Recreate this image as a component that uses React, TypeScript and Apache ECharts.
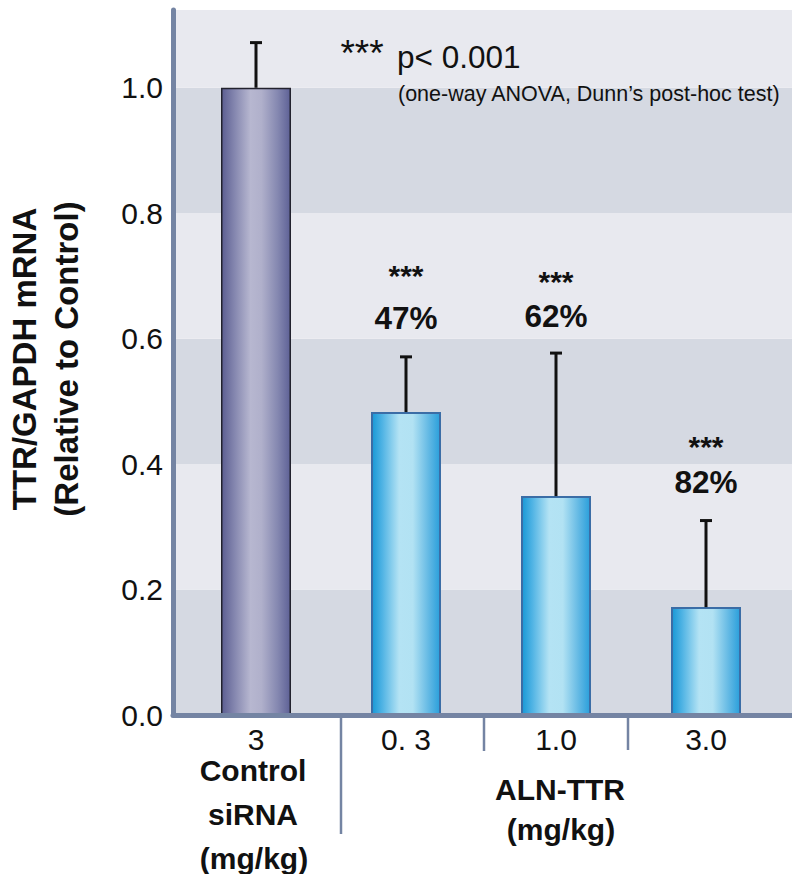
import React, { useEffect, useRef } from "react";
import * as echarts from "echarts";

const categories = ["3", "0. 3", "1.0", "3.0"];
const means = [1.0, 0.483, 0.349, 0.172];
const errors = [0.072, 0.088, 0.228, 0.138];
const reductionLabels = ["", "47%", "62%", "82%"];
const sigLabels = ["", "***", "***", "***"];
const yMin = 0;
const yMax = 1.124;
const yInterval = 0.2;

// label placement (pixels above the error-bar top / gap star->percent)
const pctLift = [0, 39, 37, 39];
const starGap = [0, 49, 42, 42];

const FONT = '"Liberation Sans", Arial, Helvetica, sans-serif';
const SLATE = "#7484a3";
const INK = "#111111";

export default function App() {
  const ref = useRef<HTMLDivElement>(null);

  useEffect(() => {
    if (!ref.current) return;
    const chart = echarts.init(ref.current, null, { renderer: "svg" });

    const controlStyle = {
      color: new echarts.graphic.LinearGradient(0, 0, 1, 0, [
        { offset: 0, color: "#5c5e91" },
        { offset: 0.18, color: "#8385ae" },
        { offset: 0.42, color: "#b7b7d0" },
        { offset: 0.58, color: "#b0b0cb" },
        { offset: 0.82, color: "#8487b0" },
        { offset: 1, color: "#5e6196" },
      ]),
      borderColor: "#22222e",
      borderWidth: 1.5,
    };
    const blueStyle = {
      color: new echarts.graphic.LinearGradient(0, 0, 1, 0, [
        { offset: 0, color: "#1898d6" },
        { offset: 0.15, color: "#4fb3e4" },
        { offset: 0.4, color: "#b4e3f4" },
        { offset: 0.6, color: "#b2e2f3" },
        { offset: 0.85, color: "#5db6e3" },
        { offset: 1, color: "#2a9fdb" },
      ]),
      borderColor: "#3b6da6",
      borderWidth: 2,
    };

    const txt = (
      text: string,
      x: number,
      y: number,
      font: string,
      align: string = "center",
      lineHeight?: number
    ) => ({
      type: "text",
      x,
      y,
      z: 100,
      style: {
        text,
        font,
        fill: INK,
        textAlign: align,
        textVerticalAlign: "middle",
        ...(lineHeight ? { lineHeight } : {}),
      },
    });

    const STAR_FS = 30;

    const option: any = {
      animation: false,
      backgroundColor: "#ffffff",
      textStyle: { fontFamily: FONT },
      grid: [
        { left: 173, right: 0, top: 10, bottom: 159 },
        { left: 181, right: 11, top: 10, bottom: 159 },
      ],
      xAxis: [
        {
          gridIndex: 0,
          type: "value",
          min: 0,
          max: 1,
          z: 10,
          axisLine: { show: true, lineStyle: { color: SLATE, width: 5 } },
          axisTick: { show: false },
          axisLabel: { show: false },
          splitLine: { show: false },
        },
        {
          gridIndex: 1,
          type: "category",
          data: categories,
          axisLine: { show: false },
          axisTick: { show: false },
          axisLabel: {
            margin: 9,
            fontSize: 30,
            color: INK,
            fontFamily: FONT,
          },
        },
      ],
      yAxis: [
        {
          gridIndex: 0,
          type: "value",
          min: yMin,
          max: yMax,
          interval: yInterval,
          axisLine: { show: true, lineStyle: { color: SLATE, width: 5 } },
          axisTick: { show: false },
          splitLine: { show: false },
          splitArea: {
            show: true,
            areaStyle: { color: ["#d5d9e2", "#e8e9ef"] },
          },
          axisLabel: {
            showMaxLabel: false,
            margin: 10,
            fontSize: 30,
            color: INK,
            fontFamily: FONT,
            formatter: (v: number) => v.toFixed(1),
          },
        },
        {
          gridIndex: 1,
          type: "value",
          min: yMin,
          max: yMax,
          show: false,
        },
      ],
      series: [
        {
          type: "bar",
          xAxisIndex: 1,
          yAxisIndex: 1,
          barWidth: 70,
          data: means.map((m, i) => ({
            value: m,
            itemStyle: i === 0 ? controlStyle : blueStyle,
          })),
          silent: true,
        },
        {
          type: "custom",
          xAxisIndex: 1,
          yAxisIndex: 1,
          z: 5,
          silent: true,
          data: means.map((m, i) => [i, m, errors[i]]),
          renderItem: (params: any, api: any) => {
            const i = api.value(0);
            const m = api.value(1);
            const e = api.value(2);
            const top = api.coord([i, m + e]);
            const bot = api.coord([i, m]);
            const cap = 6;
            return {
              type: "group",
              children: [
                {
                  type: "line",
                  shape: { x1: top[0], y1: bot[1], x2: top[0], y2: top[1] },
                  style: { stroke: INK, lineWidth: 3 },
                },
                {
                  type: "line",
                  shape: {
                    x1: top[0] - cap,
                    y1: top[1],
                    x2: top[0] + cap,
                    y2: top[1],
                  },
                  style: { stroke: INK, lineWidth: 3 },
                },
              ],
            };
          },
        },
        {
          type: "custom",
          xAxisIndex: 1,
          yAxisIndex: 1,
          z: 6,
          silent: true,
          data: means.map((m, i) => [i, m + errors[i]]),
          renderItem: (params: any, api: any) => {
            const idx = params.dataIndex;
            if (!reductionLabels[idx]) return { type: "group", children: [] };
            const top = api.coord([api.value(0), api.value(1)]);
            const pctY = top[1] - pctLift[idx];
            const starGlyphY = pctY - starGap[idx];
            return {
              type: "group",
              children: [
                {
                  type: "text",
                  x: top[0],
                  y: pctY,
                  style: {
                    text: reductionLabels[idx],
                    font: `bold 31.5px ${FONT}`,
                    fill: INK,
                    textAlign: "center",
                    textVerticalAlign: "middle",
                  },
                },
                {
                  type: "text",
                  x: top[0],
                  y: starGlyphY + 0.233 * STAR_FS,
                  style: {
                    text: sigLabels[idx],
                    font: `bold ${STAR_FS}px ${FONT}`,
                    fill: INK,
                    textAlign: "center",
                    textVerticalAlign: "middle",
                  },
                },
              ],
            };
          },
        },
      ],
      graphic: [
        {
          type: "text",
          x: 45,
          y: 359,
          z: 100,
          rotation: Math.PI / 2,
          style: {
            text: "TTR/GAPDH mRNA\n(Relative to Control)",
            font: `bold 33px ${FONT}`,
            lineHeight: 42,
            fill: INK,
            textAlign: "center",
            textVerticalAlign: "middle",
          },
        },
        txt("***", 362, 53, `37px ${FONT}`, "center", 16),
        txt("p< 0.001", 397, 57, `31.5px ${FONT}`, "left", 30),
        txt("(one-way ANOVA, Dunn\u2019s post-hoc test)", 398, 94, `21.5px ${FONT}`, "left"),
        txt("Control", 253, 770, `bold 30px ${FONT}`),
        txt("siRNA", 253, 814, `bold 30px ${FONT}`),
        txt("(mg/kg)", 254, 858, `bold 30px ${FONT}`),
        txt("ALN-TTR", 560, 789, `bold 30px ${FONT}`),
        txt("(mg/kg)", 561, 829, `bold 30px ${FONT}`),
        {
          type: "line",
          z: 100,
          shape: { x1: 341, y1: 716, x2: 341, y2: 834 },
          style: { stroke: SLATE, lineWidth: 2.5 },
        },
        {
          type: "line",
          z: 100,
          shape: { x1: 484, y1: 716, x2: 484, y2: 751 },
          style: { stroke: SLATE, lineWidth: 2.5 },
        },
        {
          type: "line",
          z: 100,
          shape: { x1: 628, y1: 716, x2: 628, y2: 750 },
          style: { stroke: SLATE, lineWidth: 2.5 },
        },
      ],
    };

    chart.setOption(option);
    return () => chart.dispose();
  }, []);

  return (
    <div
      ref={ref}
      style={{ width: 792, height: 874, position: "absolute", left: 0, top: 0 }}
    />
  );
}
